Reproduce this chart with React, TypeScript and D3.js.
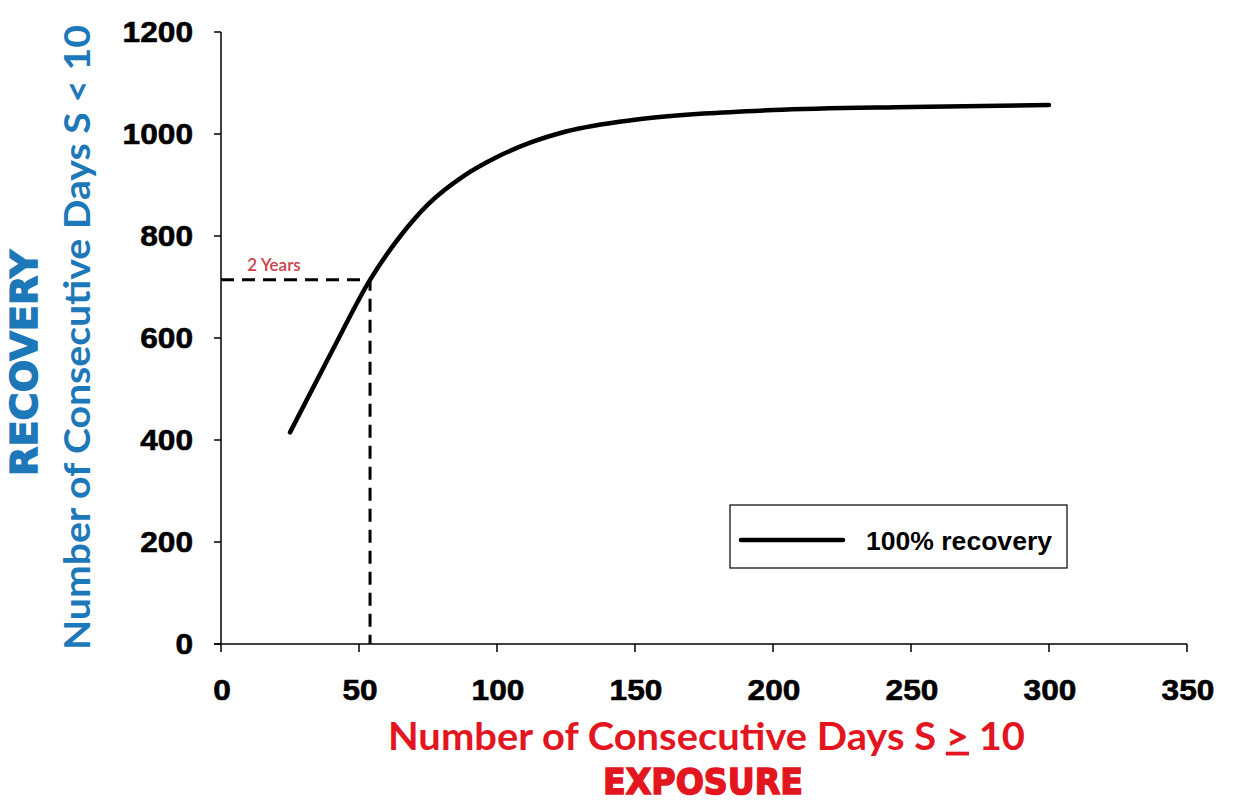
import React from "react";
import * as d3 from "d3";

const xValues = [25, 40, 54, 65, 75, 88, 100, 112, 125, 150, 175, 200, 250, 300];
const yValues = [415, 572, 714, 800, 862, 918, 955, 983, 1005, 1028, 1040, 1047, 1053, 1057];
const xTicks = [0, 50, 100, 150, 200, 250, 300, 350];
const yTicks = [0, 200, 400, 600, 800, 1000, 1200];
const markerPoint = { x: 54, y: 714 };
const seriesName = "100% recovery";

const W = 1234;
const H = 802;
const BLUE = "#1C78B8";
const RED = "#E3161F";

export default function App() {
  const x = d3.scaleLinear().domain([0, 350]).range([221, 1187]);
  const y = d3.scaleLinear().domain([0, 1200]).range([644, 32]);
  const pts = xValues.map((v, i) => [v, yValues[i]] as [number, number]);
  const line = d3
    .line<[number, number]>()
    .x((d) => x(d[0]))
    .y((d) => y(d[1]))
    .curve(d3.curveMonotoneX);
  const tickFont = "'Liberation Sans', Arial, sans-serif";
  const heavyFont = "'DejaVu Sans', 'Liberation Sans', sans-serif";
  const calFont = "Lato, 'Open Sans', sans-serif";
  const digitW = 17.6;
  return (
    <svg
      width={W}
      height={H}
      style={{ position: "absolute", left: 0, top: 0, background: "#fff" }}
    >
      <rect x={0} y={0} width={W} height={H} fill="#fff" />
      {/* axes */}
      <line x1={x(0)} x2={x(0)} y1={y(1200)} y2={y(0)} stroke="#000" strokeWidth={1.5} />
      <line x1={x(0) - 7} x2={x(350)} y1={y(0)} y2={y(0)} stroke="#000" strokeWidth={1.5} />
      {yTicks.map((t) => {
        const s = String(t);
        const w = s.length * digitW;
        return (
          <g key={"y" + t}>
            <line x1={x(0) - 7} x2={x(0)} y1={y(t)} y2={y(t)} stroke="#000" strokeWidth={1.5} />
            <text
              x={193 - w}
              y={y(t)}
              dy="0.36em"
              textLength={w}
              lengthAdjust="spacingAndGlyphs"
              fontFamily={tickFont}
              fontWeight="bold"
              fontSize={29}
              fill="#000"
              stroke="#000"
              strokeWidth={0.6}
            >
              {s}
            </text>
          </g>
        );
      })}
      {xTicks.map((t) => {
        const s = String(t);
        const w = s.length * digitW;
        return (
          <g key={"x" + t}>
            <line x1={x(t)} x2={x(t)} y1={y(0)} y2={y(0) + 8} stroke="#000" strokeWidth={1.5} />
            <text
              x={x(t) + 1 - w / 2}
              y={690}
              dy="0.36em"
              textLength={w}
              lengthAdjust="spacingAndGlyphs"
              fontFamily={tickFont}
              fontWeight="bold"
              fontSize={29}
              fill="#000"
              stroke="#000"
              strokeWidth={0.6}
            >
              {s}
            </text>
          </g>
        );
      })}
      {/* dashed guide lines */}
      <path
        d={`M${x(0)},${y(markerPoint.y)} H${x(markerPoint.x)} V${y(0)}`}
        fill="none"
        stroke="#000"
        strokeWidth={3}
        strokeDasharray="13,8"
      />
      <text
        x={274}
        y={265}
        dy="0.36em"
        textAnchor="middle"
        fontFamily={calFont}
        fontWeight={600}
        fontSize={17}
        fill="#C9444A"
      >
        2 Years
      </text>
      {/* curve */}
      <path d={line(pts) || ""} fill="none" stroke="#000" strokeWidth={4.5} strokeLinecap="round" />
      {/* legend */}
      <rect x={730} y={505} width={337} height={63} fill="#fff" stroke="#000" strokeWidth={1.2} />
      <line x1={741} x2={843} y1={540} y2={540} stroke="#000" strokeWidth={4.5} strokeLinecap="round" />
      <text
        x={866}
        y={541}
        dy="0.36em"
        textLength={186}
        lengthAdjust="spacingAndGlyphs"
        fontFamily={tickFont}
        fontWeight="bold"
        fontSize={25}
        fill="#000"
      >
        {seriesName}
      </text>
      {/* x title */}
      <text
        x={388}
        y={736}
        dy="0.36em"
        textLength={637}
        lengthAdjust="spacingAndGlyphs"
        fontFamily={calFont}
        fontWeight="bold"
        fontSize={38}
        fill={RED}
      >
        Number of Consecutive Days S <tspan textDecoration="underline" style={{ textDecoration: "underline" }}>&gt;</tspan> 10
      </text>
      <text
        x={603}
        y={781}
        dy="0.36em"
        textLength={200}
        lengthAdjust="spacingAndGlyphs"
        fontFamily={heavyFont}
        fontWeight="bold"
        fontSize={36}
        fill={RED}
        stroke={RED}
        strokeWidth={1.6}
      >
        EXPOSURE
      </text>
      {/* y titles */}
      <text
        transform="translate(24,476) rotate(-90)"
        dy="0.36em"
        textLength={226}
        lengthAdjust="spacingAndGlyphs"
        fontFamily={heavyFont}
        fontWeight="bold"
        fontSize={37}
        fill={BLUE}
        stroke={BLUE}
        strokeWidth={1.4}
      >
        RECOVERY
      </text>
      <text
        transform="translate(77,650) rotate(-90)"
        dy="0.36em"
        textLength={625}
        lengthAdjust="spacingAndGlyphs"
        fontFamily={calFont}
        fontWeight="bold"
        fontSize={37}
        fill={BLUE}
      >
        Number of Consecutive Days S &lt; 10
      </text>
    </svg>
  );
}
